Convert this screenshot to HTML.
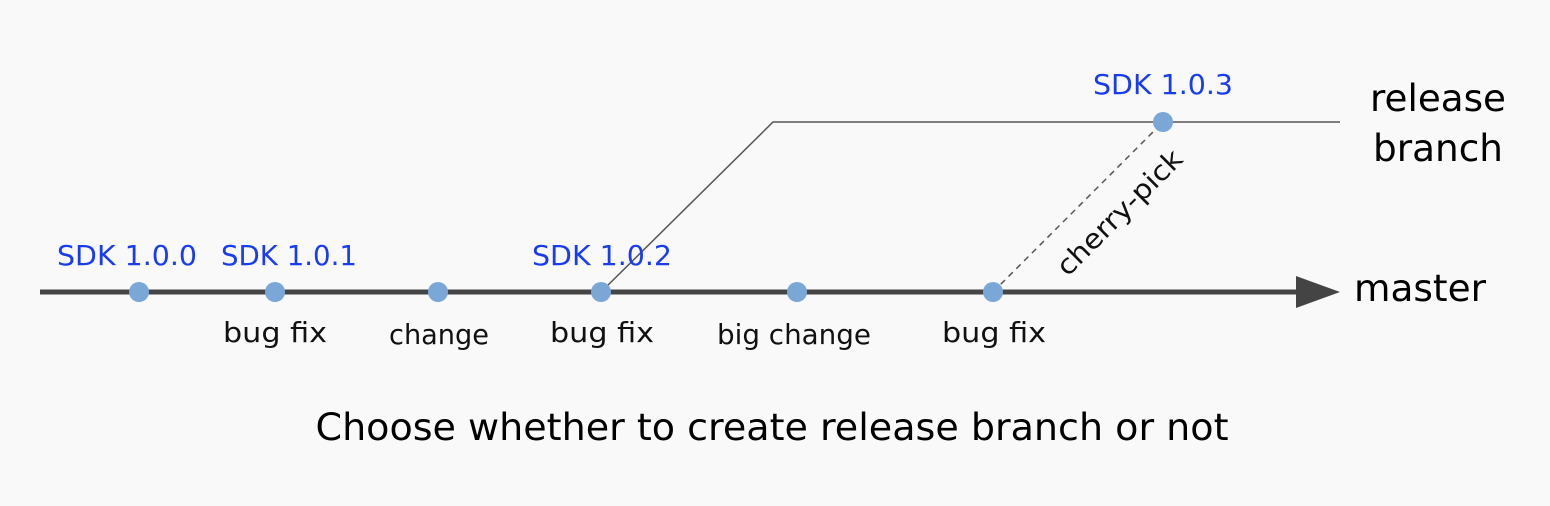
<!DOCTYPE html>
<html><head><meta charset="utf-8"><style>
html,body{margin:0;padding:0;background:#f9f9f9;}
svg{display:block}
text{font-family:"DejaVu Sans","Liberation Sans",sans-serif;}
</style></head><body>
<svg width="1550" height="506" viewBox="0 0 1550 506" xmlns="http://www.w3.org/2000/svg">
<rect width="1550" height="506" fill="#f9f9f9"/>
<line x1="40" y1="292" x2="1300" y2="292" stroke="#444" stroke-width="5"/>
<polygon points="1296,276 1340,292 1296,308" fill="#444"/>
<polyline points="601,292 773,122 1340,122" fill="none" stroke="#555" stroke-width="1.5"/>
<line x1="993" y1="292" x2="1163" y2="122" stroke="#555" stroke-width="1.5" stroke-dasharray="6,5"/>
<g fill="#7ba7d7">
<circle cx="139" cy="292" r="10"/><circle cx="275" cy="292" r="10"/><circle cx="438" cy="292" r="10"/>
<circle cx="601" cy="292" r="10"/><circle cx="797" cy="292" r="10"/><circle cx="993" cy="292" r="10"/>
<circle cx="1163" cy="122" r="10"/>
</g>
<g fill="#1a3cf0" font-size="28" text-anchor="middle">
<text x="127" y="265" textLength="140" lengthAdjust="spacingAndGlyphs">SDK 1.0.0</text>
<text x="289" y="265" textLength="136" lengthAdjust="spacingAndGlyphs">SDK 1.0.1</text>
<text x="602" y="265" textLength="140" lengthAdjust="spacingAndGlyphs">SDK 1.0.2</text>
<text x="1163" y="94" textLength="140" lengthAdjust="spacingAndGlyphs">SDK 1.0.3</text>
</g>
<g fill="#111" font-size="28" text-anchor="middle">
<text x="275" y="342" textLength="104" lengthAdjust="spacingAndGlyphs">bug fix</text>
<text x="439" y="344" textLength="100" lengthAdjust="spacingAndGlyphs">change</text>
<text x="602" y="342" textLength="104" lengthAdjust="spacingAndGlyphs">bug fix</text>
<text x="794" y="344" textLength="154" lengthAdjust="spacingAndGlyphs">big change</text>
<text x="994" y="342" textLength="104" lengthAdjust="spacingAndGlyphs">bug fix</text>
<text transform="translate(1126,219) rotate(-45)" font-size="27" textLength="165" lengthAdjust="spacingAndGlyphs">cherry-pick</text>
</g>
<g fill="#000" font-size="37" text-anchor="middle">
<text x="1438" y="111" textLength="136" lengthAdjust="spacingAndGlyphs">release</text>
<text x="1438" y="161" textLength="130" lengthAdjust="spacingAndGlyphs">branch</text>
<text x="1420" y="301" textLength="132" lengthAdjust="spacingAndGlyphs">master</text>
<text x="772" y="440" textLength="913" lengthAdjust="spacingAndGlyphs">Choose whether to create release branch or not</text>
</g>
</svg>
</body></html>
